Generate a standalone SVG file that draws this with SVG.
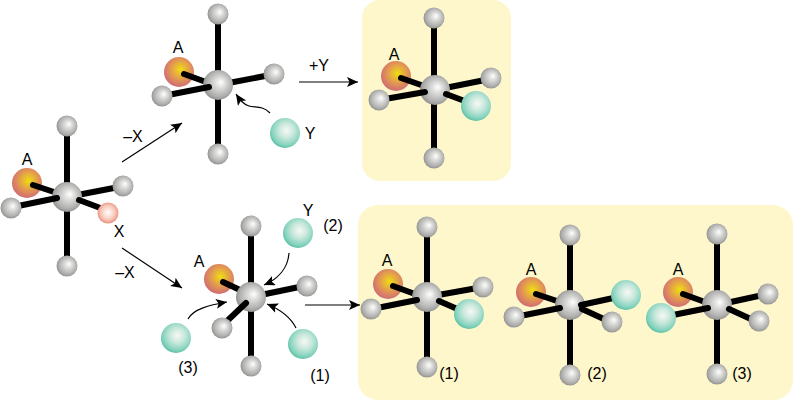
<svg xmlns="http://www.w3.org/2000/svg" width="794" height="400" viewBox="0 0 794 400">
<style>
.g{fill:url(#gg)}.a{fill:url(#ga)}.y{fill:url(#gy)}.x{fill:url(#gx)}
.b{fill:none;stroke:#000;stroke-width:6}
.br{fill:none;stroke:#000;stroke-width:6;stroke-linecap:round}
.c{fill:none;stroke:#000;stroke-width:1.2}
.ca{marker-end:url(#ah)}
.t{font-family:"Liberation Sans",Arial,sans-serif;font-size:16px;fill:#000;text-anchor:middle}
.p{fill:#fff7cc}
</style>
<defs>
<radialGradient id="gg" cx="0.52" cy="0.48" r="0.56" fx="0.6" fy="0.4"><stop offset="0" stop-color="#ffffff"/><stop offset="0.3" stop-color="#dededc"/><stop offset="0.75" stop-color="#b0b0ae"/><stop offset="1" stop-color="#8a8a88"/></radialGradient>
<radialGradient id="ga" cx="0.55" cy="0.42" r="0.62"><stop offset="0" stop-color="#f0e010"/><stop offset="0.22" stop-color="#eac02c"/><stop offset="0.6" stop-color="#e09058"/><stop offset="1" stop-color="#cc6678"/></radialGradient>
<radialGradient id="gy" cx="0.55" cy="0.42" r="0.62"><stop offset="0" stop-color="#f8f8f6"/><stop offset="0.4" stop-color="#c8e8dc"/><stop offset="0.8" stop-color="#82d2bc"/><stop offset="1" stop-color="#4cb89e"/></radialGradient>
<radialGradient id="gx" cx="0.5" cy="0.48" r="0.52"><stop offset="0" stop-color="#ffffff"/><stop offset="0.3" stop-color="#fde6dc"/><stop offset="0.65" stop-color="#f8c8b8"/><stop offset="1" stop-color="#ea8e7e"/></radialGradient>
<marker id="ah" markerUnits="userSpaceOnUse" markerWidth="14" markerHeight="12" refX="11" refY="5" orient="auto"><path d="M0 0L11 5L0 10L2.500 5Z" fill="#000"/></marker>
</defs>

<g id="panels">
<rect class="p" x="362" y="0" width="149" height="181" rx="18"/>
<rect class="p" x="358" y="205" width="435" height="195" rx="20"/>
</g>

<g id="connectors">
<path class="c ca" d="M122 162L182 123"/>
<path class="c ca" d="M122 248L182 288"/>
<path class="c ca" d="M299 82H358"/>
<path class="c ca" d="M305 305H360"/>
<path class="c ca" d="M270 113C262 105 255 108 249 106C243 104 240 100 236 94"/>
<path class="c ca" d="M289 253C288 268 278 279 264 285"/>
<path class="c ca" d="M188 319C193 309 210 305 227 302"/>
<path class="c ca" d="M296 328C290 316 279 309 267 304"/>
</g>

<g id="mol-1">
<circle class="a" cx="27" cy="183" r="15"/>
<path class="b" d="M67 130V262M67 197L119 187"/><path class="br" d="M33 185L54 192"/>
<circle class="g" cx="67" cy="197" r="15"/>
<path class="br" d="M18 206L57 198M79 200L103 209"/>
<circle class="g" cx="67" cy="126" r="10.500"/><circle class="g" cx="67" cy="266" r="10.500"/>
<circle class="g" cx="11" cy="208" r="10.500"/><circle class="g" cx="123" cy="186" r="10.500"/>
<circle class="x" cx="108" cy="213" r="10.500"/>
<text class="t" x="27" y="165">A</text><text class="t" x="119" y="237">X</text>
</g>
<text class="t" x="133" y="142">–X</text>
<text class="t" x="125" y="278">–X</text>

<g id="mol-2">
<circle class="a" cx="179" cy="72" r="15"/>
<path class="b" d="M218 18V150M218 85L270 75"/><path class="br" d="M184 74L206 82"/>
<circle class="g" cx="218" cy="85" r="15"/>
<path class="br" d="M168 95L209 87"/>
<circle class="g" cx="218" cy="14" r="10.500"/><circle class="g" cx="218" cy="154" r="10.500"/>
<circle class="g" cx="162" cy="96" r="10.500"/><circle class="g" cx="274" cy="74" r="10.500"/>
<text class="t" x="178" y="53">A</text>
</g>
<g id="y-top"><circle class="y" cx="285" cy="133" r="15"/><text class="t" x="310" y="139">Y</text></g>
<text class="t" x="319" y="71">+Y</text>

<g id="mol-3">
<circle class="a" cx="396" cy="76" r="15"/>
<path class="b" d="M434 22V154M435 90L490 79"/><path class="br" d="M401 78L424 86"/>
<circle class="g" cx="435" cy="90" r="15"/>
<path class="br" d="M385 99L425 92M446 94L470 103"/>
<circle class="g" cx="434" cy="18" r="10.500"/><circle class="g" cx="434" cy="158" r="10.500"/>
<circle class="g" cx="379" cy="100" r="10.500"/><circle class="g" cx="491" cy="78" r="10.500"/>
<circle class="y" cx="476" cy="106" r="15"/>
<text class="t" x="394" y="60">A</text>
</g>

<g id="mol-4">
<circle class="a" cx="219" cy="279" r="15"/>
<path class="b" d="M251 230V362M251 297L304 286"/><path class="br" d="M223 282L240 290"/>
<circle class="g" cx="251" cy="297" r="15"/>
<path class="br" d="M226 322L246 303"/>
<circle class="g" cx="251" cy="226" r="10.500"/><circle class="g" cx="251" cy="366" r="10.500"/>
<circle class="g" cx="222" cy="328" r="10.500"/><circle class="g" cx="307" cy="286" r="10.500"/>
<text class="t" x="199" y="267">A</text>
</g>
<g id="y-2"><circle class="y" cx="298" cy="233" r="15"/><text class="t" x="308" y="216">Y</text><text class="t" x="333" y="231">(2)</text></g>
<g id="y-3"><circle class="y" cx="176" cy="338" r="15"/><text class="t" x="188" y="373">(3)</text></g>
<g id="y-1"><circle class="y" cx="303" cy="344" r="15"/><text class="t" x="320" y="381">(1)</text></g>

<g id="mol-a">
<circle class="a" cx="388" cy="284" r="15"/>
<path class="b" d="M427 231V363M427 297L483 287"/><path class="br" d="M393 286L415 294"/>
<circle class="g" cx="427" cy="297" r="15"/>
<path class="br" d="M377 308L417 300M439 301L462 311"/>
<circle class="g" cx="427" cy="227" r="10.500"/><circle class="g" cx="427" cy="367" r="10.500"/>
<circle class="g" cx="371" cy="309" r="10.500"/><circle class="g" cx="483" cy="287" r="10.500"/>
<circle class="y" cx="469" cy="314" r="15"/>
<text class="t" x="387" y="266">A</text><text class="t" x="449" y="379">(1)</text>
</g>

<g id="mol-b">
<circle class="a" cx="531" cy="292" r="15"/>
<path class="b" d="M570 239V371"/><path class="br" d="M536 294L557 301"/>
<circle class="g" cx="570" cy="305" r="15"/>
<path class="br" d="M520 316L560 308M581 305L618 297M582 309L606 320"/>
<circle class="g" cx="570" cy="235" r="10.500"/><circle class="g" cx="570" cy="375" r="10.500"/>
<circle class="g" cx="514" cy="317" r="10.500"/><circle class="g" cx="612" cy="322" r="10.500"/>
<circle class="y" cx="626" cy="295" r="15"/>
<text class="t" x="531" y="275">A</text><text class="t" x="597" y="379">(2)</text>
</g>

<g id="mol-c">
<circle class="a" cx="678" cy="292" r="15"/>
<path class="b" d="M717 238V370M717 305L763 295"/><path class="br" d="M683 294L705 302"/>
<circle class="g" cx="717" cy="305" r="15"/>
<path class="br" d="M668 316L708 308M729 309L753 320"/>
<circle class="g" cx="717" cy="234" r="10.500"/><circle class="g" cx="717" cy="374" r="10.500"/>
<circle class="g" cx="768" cy="294" r="10.500"/><circle class="g" cx="759" cy="321" r="10.500"/>
<circle class="y" cx="661" cy="318" r="15"/>
<text class="t" x="678" y="275">A</text><text class="t" x="742" y="379">(3)</text>
</g>
</svg>
